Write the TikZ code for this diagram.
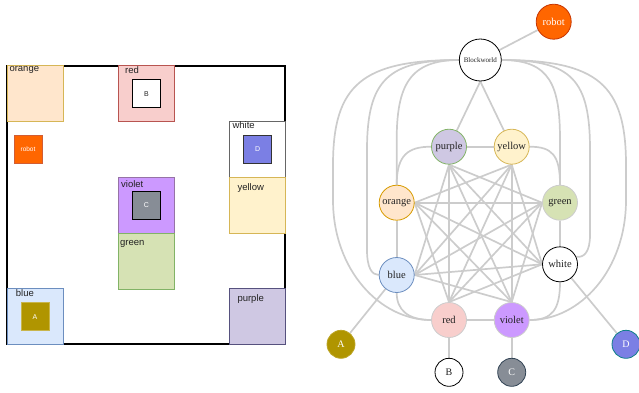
\documentclass[tikz,border=0pt]{standalone}
\usepackage{fontspec}
\setmainfont{Liberation Serif}
\newfontfamily\arialf{Liberation Sans}
\usetikzlibrary{backgrounds}
\definecolor{orangec}{HTML}{FFE6CC}
\definecolor{oranged}{HTML}{D79B00}
\definecolor{yellowc}{HTML}{FFF2CC}
\definecolor{yellowd}{HTML}{D6B656}
\definecolor{redc}{HTML}{F8CECC}
\definecolor{redd}{HTML}{B85450}
\definecolor{violetc}{HTML}{CC99FF}
\definecolor{violetd}{HTML}{9673A6}
\definecolor{greenc}{HTML}{D6E2B4}
\definecolor{greend}{HTML}{82B366}
\definecolor{bluec}{HTML}{DAE8FC}
\definecolor{blued}{HTML}{6C8EBF}
\definecolor{purplec}{HTML}{CFC8E3}
\definecolor{purpled}{HTML}{56517E}
\definecolor{robotc}{HTML}{FF6600}
\definecolor{robotd}{HTML}{C73500}
\definecolor{Ac}{HTML}{B09500}
\definecolor{Cc}{HTML}{878D96}
\definecolor{Cd}{HTML}{314354}
\definecolor{Dc}{HTML}{7B7FE4}
\definecolor{Dd}{HTML}{0E8088}
\definecolor{edgec}{HTML}{CCCCCC}
\definecolor{txt}{HTML}{222222}
\begin{document}
\begin{tikzpicture}[x=1pt,y=-1pt,
  cell/.style={draw, line width=0.8pt, minimum size=56pt, inner sep=0pt, outer sep=0pt},
  innerbox/.style={draw, line width=0.9pt, minimum size=28pt, inner sep=0pt, font=\arialf\fontsize{7}{8}\selectfont},
  lbl/.style={anchor=west, inner sep=0pt, font=\arialf\fontsize{9.5}{11}\selectfont, text=txt},
  gn/.style={circle, draw, minimum size=35pt, inner sep=0pt, line width=0.8pt, font=\fontsize{10.5}{12}\selectfont, text=txt},
  leaf/.style={circle, draw, minimum size=28pt, inner sep=0pt, line width=0.8pt, font=\fontsize{10}{12}\selectfont},
  edge/.style={draw=edgec, line width=1.7pt}]
\useasboundingbox (0,0) rectangle (639,392);

% ---------- left: floor plan ----------
\node[draw, line width=2pt, minimum width=278.3pt, minimum height=278.6pt, inner sep=0pt] (frame) at (145.85,205) {};
\node[cell, fill=orangec, draw=yellowd] (c-orange) at (35,93.7) {};
\node[cell, fill=redc, draw=redd] (c-red) at (146.3,93.7) {};
\node[cell, fill=white, draw=black!60] (c-white) at (257.5,149.5) {};
\node[cell, fill=yellowc, draw=yellowd] (c-yellow) at (257.5,205.3) {};
\node[cell, fill=violetc, draw=violetd] (c-violet) at (146.3,205.3) {};
\node[cell, fill=greenc, draw=greend] (c-green) at (146.3,261.2) {};
\node[cell, fill=bluec, draw=blued] (c-blue) at (35,316.3) {};
\node[cell, fill=purplec, draw=purpled] (c-purple) at (257.5,316.3) {};

\node[innerbox, fill=white, draw=black, text=txt] (c-B) at (146.5,93.8) {B};
\node[innerbox, fill=Dc, draw=black!80, text=white] (c-D) at (257.7,149.5) {D};
\node[innerbox, fill=Cc, draw=black, text=white] (c-C) at (146.5,205.2) {C};
\node[innerbox, fill=Ac, draw=Ac!70!white, text=white] (c-A) at (35,316.7) {A};
\node[innerbox, fill=robotc, draw=robotd!80!white, text=white, font=\arialf\fontsize{6.5}{7}\selectfont] (c-robot) at (28,149.5) {robot};

\node[lbl] (l-orange) at (9.3,70) {orange};
\node[lbl] (l-red) at (125,70) {red};
\node[lbl] (l-white) at (232.3,125) {white};
\node[lbl] (l-yellow) at (237.3,187.7) {yellow};
\node[lbl] (l-violet) at (121,184.3) {violet};
\node[lbl] (l-green) at (120,244) {green};
\node[lbl] (l-blue) at (15.7,292.7) {blue};
\node[lbl] (l-purple) at (237.3,299) {purple};

% ---------- right: graph ----------
\node[gn, fill=robotc, draw=robotd, text=white] (g-robot) at (553.7,21.7) {robot};
\node[gn, minimum size=42pt, fill=white, draw=black, font=\fontsize{7}{8}\selectfont] (g-bw) at (480.3,60) {Blockworld};
\node[gn, fill=purplec, draw=greend] (g-purple) at (449,146.7) {purple};
\node[gn, fill=yellowc, draw=yellowd] (g-yellow) at (511.7,146.7) {yellow};
\node[gn, fill=orangec, draw=oranged] (g-orange) at (396.7,202.7) {orange};
\node[gn, fill=greenc, draw=black!20] (g-green) at (560,202.7) {green};
\node[gn, fill=bluec, draw=blued] (g-blue) at (396.7,275) {blue};
\node[gn, fill=white, draw=black] (g-white) at (560,264.3) {white};
\node[gn, fill=redc, draw=black!20] (g-red) at (449,320) {red};
\node[gn, fill=violetc, draw=black!20] (g-violet) at (511.7,320) {violet};
\node[leaf, fill=Ac, draw=Ac!85!white, text=white] (g-A) at (341,344.3) {A};
\node[leaf, fill=white, draw=black, text=txt] (g-B) at (449,372.3) {B};
\node[leaf, fill=Cc, draw=Cd, text=white] (g-C) at (511.7,372.3) {C};
\node[leaf, fill=Dc, draw=Dd, text=white] (g-D) at (626,344.3) {D};

\coordinate (p-purple) at (g-purple.south);
\coordinate (p-yellow) at (g-yellow.south);
\coordinate (p-orange) at (g-orange.east);
\coordinate (p-green) at (g-green.west);
\coordinate (p-blue) at (g-blue.east);
\coordinate (p-white) at (g-white.west);
\coordinate (p-red) at (g-red.north);
\coordinate (p-violet) at (g-violet.north);

\begin{scope}[on background layer]
  \draw[edge] (g-robot) -- (g-bw);
  \draw[edge] (g-bw.south) -- (g-purple);
  \draw[edge] (g-bw.south) -- (g-yellow);
  % Blockworld curves
  \draw[edge] (g-bw.west) .. controls (410,60) and (396.7,85) .. (396.7,140) -- (g-orange.north);
  \draw[edge] (g-bw.west) .. controls (388,60) and (367,80) .. (367,150) -- (367,250) .. controls (367,268) and (372,275) .. (g-blue.west);
  \draw[edge] (g-bw.west) .. controls (362,60) and (333,85) .. (333,165) -- (333,200) .. controls (333,270) and (380,320) .. (g-red.west);
  \draw[edge] (g-bw.east) .. controls (550,60) and (560,85) .. (560,140) -- (g-green.north);
  \draw[edge] (g-bw.east) .. controls (572,60) and (590,80) .. (590,150) -- (590,235) .. controls (590,252) and (584,258) .. (g-white.25);
  \draw[edge] (g-bw.east) .. controls (598,60) and (626,85) .. (626,165) -- (626,200) .. controls (626,270) and (580,320) .. (g-violet.east);
  % ring
  \draw[edge] (g-purple.west) .. controls (408,146.7) and (396.7,155) .. (g-orange.north);
  \draw[edge] (g-yellow.east) .. controls (552,146.7) and (560,155) .. (g-green.north);
  \draw[edge] (g-blue.south) .. controls (396.7,310) and (408,320) .. (g-red.west);
  \draw[edge] (g-white.south) .. controls (560,310) and (552,320) .. (g-violet.east);
  \draw[edge] (g-purple.east) -- (g-yellow.west);
  \draw[edge] (g-orange.south) -- (g-blue.north);
  \draw[edge] (g-green.south) -- (g-white.north);
  \draw[edge] (g-red.east) -- (g-violet.west);
  % diagonals
  \foreach \a/\b in {purple/green, purple/white, purple/violet, purple/red, purple/blue,
                     yellow/white, yellow/violet, yellow/red, yellow/blue, yellow/orange,
                     green/violet, green/red, green/blue, green/orange,
                     white/red, white/blue, white/orange,
                     violet/blue, violet/orange,
                     red/orange}
    \draw[edge] (p-\a) -- (p-\b);
  % leaves
  \draw[edge] (g-A) -- (g-blue);
  \draw[edge] (g-B) -- (g-red);
  \draw[edge] (g-C) -- (g-violet);
  \draw[edge] (g-D) -- (g-white);
\end{scope}
\end{tikzpicture}
\end{document}
